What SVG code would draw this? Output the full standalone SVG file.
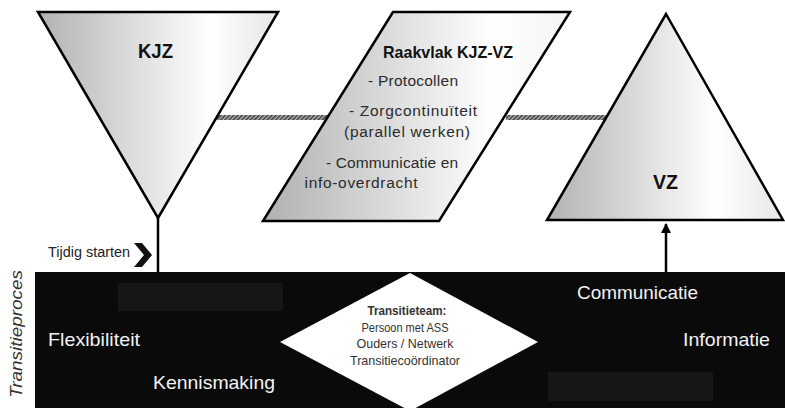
<svg xmlns="http://www.w3.org/2000/svg" width="785" height="408" viewBox="0 0 785 408">
<defs>
<linearGradient id="gTri" x1="0" y1="0" x2="1" y2="0">
<stop offset="0" stop-color="#b2b2b2"/>
<stop offset="0.72" stop-color="#ffffff"/>
<stop offset="1" stop-color="#e6e6e6"/>
</linearGradient>
<linearGradient id="gPar" x1="0" y1="0" x2="1" y2="0">
<stop offset="0" stop-color="#b0b0b0"/>
<stop offset="0.75" stop-color="#ffffff"/>
<stop offset="1" stop-color="#f4f4f4"/>
</linearGradient>
<pattern id="hatch" patternUnits="userSpaceOnUse" width="3" height="3" patternTransform="rotate(45)">
<rect width="3" height="3" fill="#b5b5b5"/>
<rect width="1.5" height="3" fill="#3a3a3a"/>
</pattern>
<marker id="arr" viewBox="0 0 10 10" refX="9" refY="5" markerWidth="10" markerHeight="11" orient="auto" markerUnits="userSpaceOnUse">
<path d="M0,0 L10,5 L0,10 z" fill="#000"/>
</marker>
<style>
.shape{stroke:#000;stroke-width:2.5;stroke-linejoin:miter}
.t{font-family:"Liberation Sans",Arial,sans-serif}
.big{font-size:21px;font-weight:bold;fill:#111;text-anchor:middle}
.par{font-size:15.5px;fill:#2b2b2b;text-anchor:middle}
.wt{font-size:19px;fill:#f2f2f2}
.dm{font-size:13px;fill:#333;text-anchor:middle}
</style>
</defs>
<rect width="785" height="408" fill="#ffffff"/>

<g id="connectors">
<rect x="217" y="115" width="110" height="5" fill="url(#hatch)"/>
<rect x="506" y="115" width="102" height="5" fill="url(#hatch)"/>
<line x1="158" y1="218" x2="158" y2="273" stroke="#000" stroke-width="2.5"/>
<line x1="666" y1="273" x2="666" y2="224" stroke="#000" stroke-width="2.5" marker-end="url(#arr)"/>
</g>

<g id="kjz">
<polygon class="shape" points="38,12 278,12 158,218" fill="url(#gTri)"/>
<text class="t big" x="155.5" y="58" textLength="35" lengthAdjust="spacingAndGlyphs">KJZ</text>
</g>

<g id="raakvlak">
<polygon class="shape" points="393,12 570,12 439,221 263,221" fill="url(#gPar)"/>
<text class="t" x="448" y="58" text-anchor="middle" font-size="16.5" font-weight="bold" fill="#111" textLength="130" lengthAdjust="spacingAndGlyphs">Raakvlak KJZ-VZ</text>
<text class="t par" x="413" y="86" textLength="90">- Protocollen</text>
<text class="t par" x="413" y="116" textLength="128">- Zorgcontinuïteit</text>
<text class="t par" x="407" y="137" textLength="126">(parallel werken)</text>
<text class="t par" x="392" y="168" textLength="132">- Communicatie en</text>
<text class="t par" x="361" y="188" textLength="113">info-overdracht</text>
</g>

<g id="vz">
<polygon class="shape" points="666,14 783,220 547,220" fill="url(#gTri)"/>
<text class="t big" x="665.5" y="189" font-size="22" textLength="25" lengthAdjust="spacingAndGlyphs">VZ</text>
</g>

<g id="tijdig">
<text class="t" x="48" y="257" font-size="14" fill="#222" textLength="82" lengthAdjust="spacingAndGlyphs">Tijdig starten</text>
<polygon points="134,243 142,243 152,255 142,267 134,267 144,255" fill="#111"/>
</g>

<g id="transitieproces">
<rect x="35" y="272" width="750" height="136" fill="#0a0a0a"/>
<rect x="118" y="283" width="165" height="28" fill="#161616"/>
<rect x="548" y="372" width="165" height="29" fill="#161616"/>
<text class="t wt" x="48" y="346" textLength="92" lengthAdjust="spacingAndGlyphs">Flexibiliteit</text>
<text class="t wt" x="153" y="389" textLength="122" lengthAdjust="spacingAndGlyphs">Kennismaking</text>
<text class="t wt" x="577" y="299" textLength="121" lengthAdjust="spacingAndGlyphs">Communicatie</text>
<text class="t wt" x="683" y="346" textLength="87" lengthAdjust="spacingAndGlyphs">Informatie</text>
<text class="t" transform="translate(22,334) rotate(-90)" text-anchor="middle" font-size="17" font-style="italic" fill="#333" textLength="128" lengthAdjust="spacingAndGlyphs">Transitieproces</text>
</g>

<g id="transitieteam">
<polygon points="410,273 538,342 410,411 280,342" fill="#ffffff"/>
<text class="t dm" x="407" y="315" font-weight="bold" fill="#111" textLength="79" lengthAdjust="spacingAndGlyphs">Transitieteam:</text>
<text class="t dm" x="405" y="332" textLength="87" lengthAdjust="spacingAndGlyphs">Persoon met ASS</text>
<text class="t dm" x="405" y="348" textLength="97" lengthAdjust="spacingAndGlyphs">Ouders / Netwerk</text>
<text class="t dm" x="405" y="365" textLength="110" lengthAdjust="spacingAndGlyphs">Transitiecoördinator</text>
</g>
</svg>
